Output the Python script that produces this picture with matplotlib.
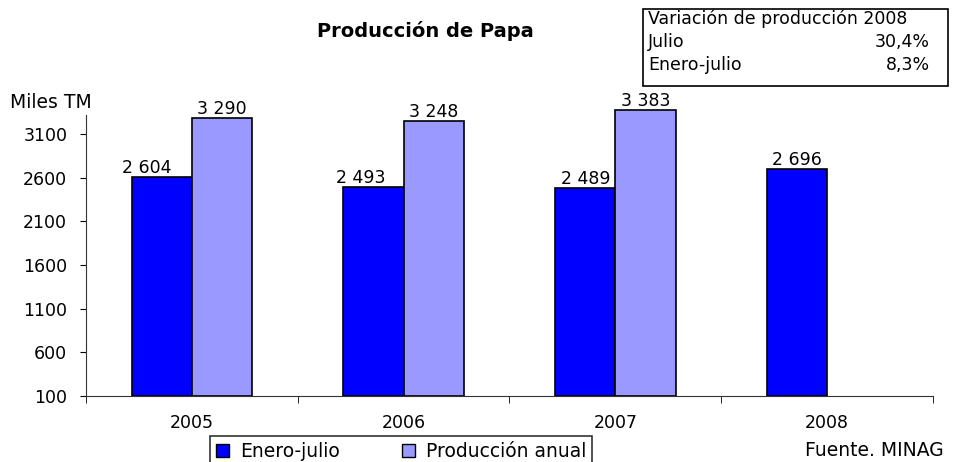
import numpy as np
import matplotlib
matplotlib.use('Agg')
import matplotlib.pyplot as plt
from matplotlib.patches import Rectangle, Patch

plt.rcParams['font.family'] = ['DejaVu Sans']

years = ['2005', '2006', '2007', '2008']
enero_julio = [2604, 2493, 2489, 2696]
anual = [3290, 3248, 3383, np.nan]
yticks = [100, 600, 1100, 1600, 2100, 2600, 3100]

def fmt(v):
    return f'{int(v):,}'.replace(',', ' ')

fig = plt.figure(figsize=(9.54, 4.62), dpi=100)
ax = fig.add_axes([86/954, 1 - 396/462, (933 - 86)/954, (396 - 115)/462])

x = np.arange(len(years))
w = 0.284
ax.bar(x - w/2, np.array(enero_julio) - 100, w, bottom=100, color='#0000ff',
       edgecolor='black', linewidth=1.2, clip_on=False)
ax.bar(x + w/2, np.array(anual) - 100, w, bottom=100, color='#9999ff',
       edgecolor='black', linewidth=1.2, clip_on=False)

# las etiquetas de 2005 y 2006 están algo corridas a la izquierda en el original
label_dx = [-11, -9, 0, 0]
for xi, v, dx in zip(x - w/2, enero_julio, label_dx):
    ax.annotate(fmt(v), (xi, v), xytext=(dx, 0), textcoords='offset points',
                ha='center', va='bottom', fontsize=12.5, annotation_clip=False)
for xi, v in zip(x + w/2, anual):
    if not np.isnan(v):
        ax.annotate(fmt(v), (xi, v), xytext=(0, 0), textcoords='offset points',
                    ha='center', va='bottom', fontsize=12.5, annotation_clip=False)

ax.set_xlim(-0.5, 3.5)
ax.set_ylim(100, 3320)
ax.set_yticks(yticks)
ax.set_yticklabels([str(t) for t in yticks], fontsize=12.5)
ax.set_xticks(x)
ax.set_xticklabels(years, fontsize=12.5)
ax.set_xticks(np.arange(-0.5, 4.0, 1), minor=True)
ax.tick_params(axis='x', which='major', length=0, pad=13)
ax.tick_params(axis='x', which='minor', length=5, direction='out')
ax.tick_params(axis='y', length=4.5, direction='out', pad=9)
for s in ['top', 'right']:
    ax.spines[s].set_visible(False)
for s in ['left', 'bottom']:
    ax.spines[s].set_color('#333333')

fig.text(10/954, 1 - 108/462, 'Miles TM', fontsize=13.5, va='baseline', ha='left')
fig.text(425/954, 1 - 37/462, 'Producción de Papa', fontsize=14, fontweight='bold',
         ha='center', va='baseline')

# cuadro de variación
fig.patches.append(Rectangle((643/954, 1 - 86/462), (948 - 643)/954, (86 - 9)/462,
                             transform=fig.transFigure, fill=False, edgecolor='black',
                             linewidth=1.2))
fig.text(648/954, 1 - 24/462, 'Variación de producción 2008', fontsize=12.5, va='baseline')
fig.text(648/954, 1 - 47/462, 'Julio', fontsize=12.5, va='baseline')
fig.text(930/954, 1 - 47/462, '30,4%', fontsize=12.5, va='baseline', ha='right')
fig.text(648/954, 1 - 70/462, 'Enero-julio', fontsize=12.5, va='baseline')
fig.text(930/954, 1 - 70/462, '8,3%', fontsize=12.5, va='baseline', ha='right')

handles = [Patch(facecolor='#0000ff', edgecolor='black', label='Enero-julio'),
           Patch(facecolor='#9999ff', edgecolor='black', label='Producción anual')]
leg = fig.legend(handles=handles, loc='upper left',
                 bbox_to_anchor=(210/954, 0, 382/954, 1 - 436/462), mode='expand',
                 ncol=2, fontsize=13.5, frameon=True, fancybox=False, edgecolor='black',
                 handlelength=0.7, handleheight=0.7, handletextpad=0.6, columnspacing=1.0,
                 borderpad=0.3, borderaxespad=0)
leg.get_frame().set_linewidth(1.2)

fig.text(944/954, 1 - 456/462, 'Fuente. MINAG', fontsize=13.5, ha='right', va='baseline')

fig.savefig('out.png', dpi=100)
